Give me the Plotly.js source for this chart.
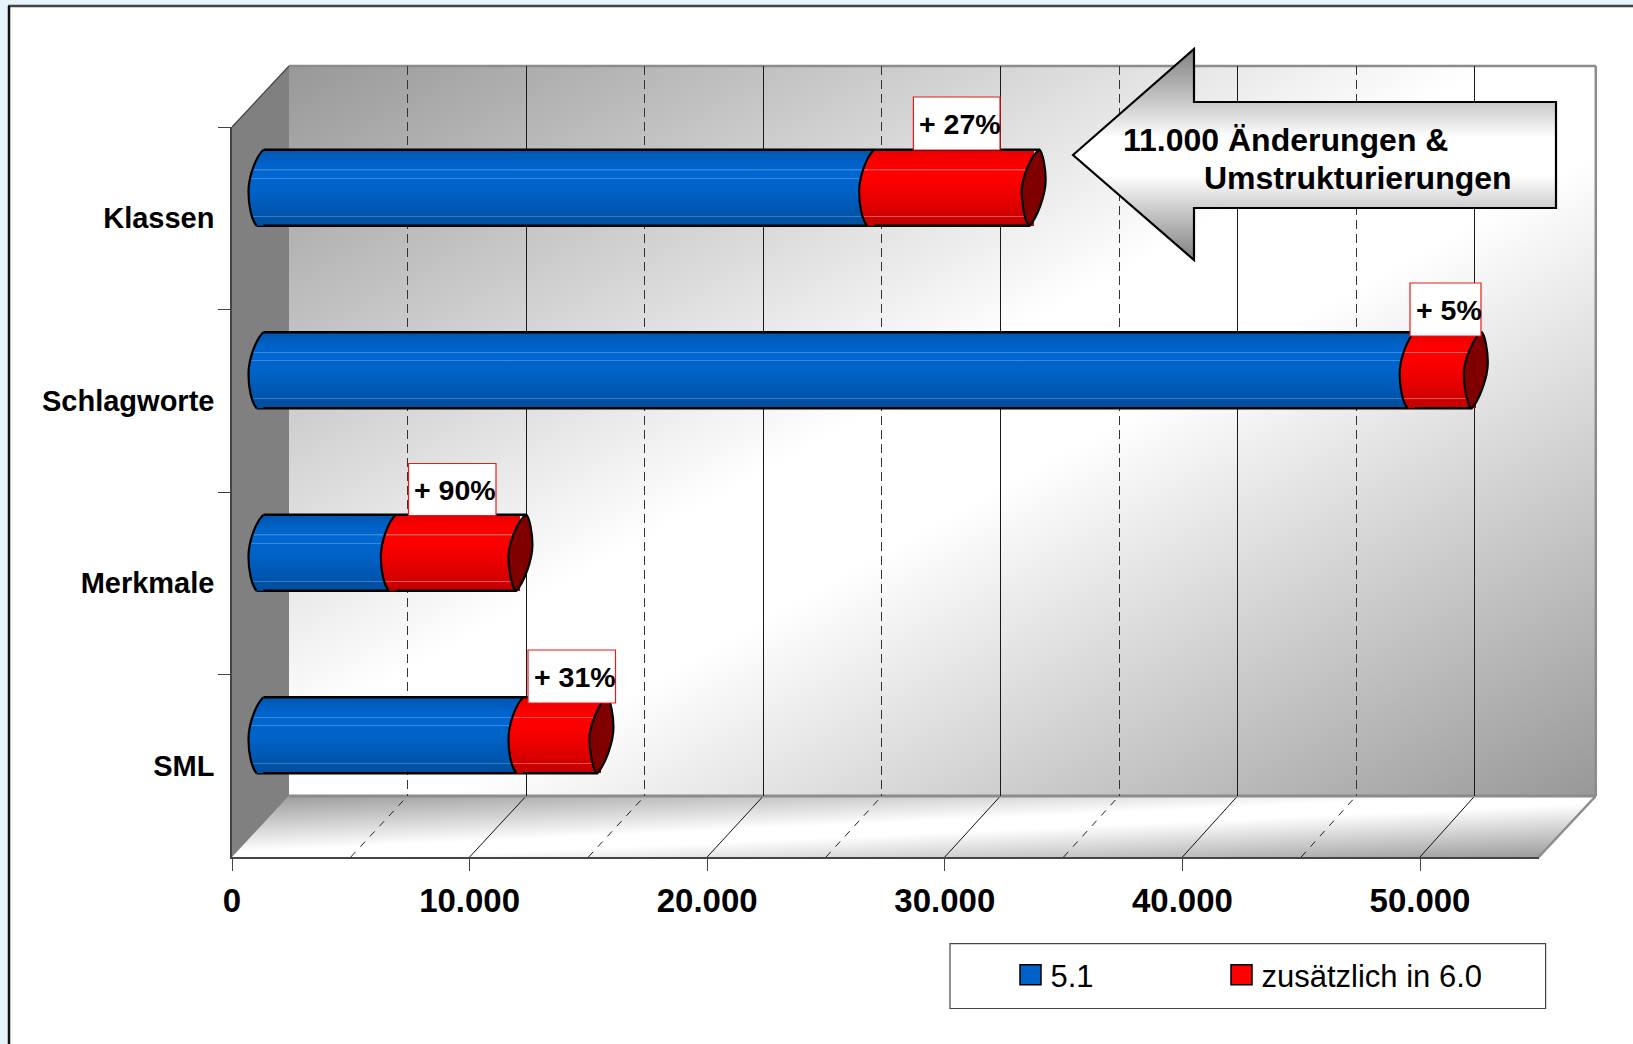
<!DOCTYPE html>
<html>
<head>
<meta charset="utf-8">
<script src="https://cdn.plot.ly/plotly-3.0.1.min.js"></script>
<style>html,body{margin:0;padding:0;background:#fff}#chart{width:1633px;height:1044px}</style>
</head>
<body>
<div id="chart"></div>
<script>
// ---- data ----
var categories = ['Klassen', 'Schlagworte', 'Merkmale', 'SML'];
var base51 = [25700, 48450, 5570, 10940];
var added60 = [6840, 2700, 5370, 3410];
var percentLabels = ['+ 27%', '+ 5%', '+ 90%', '+ 31%'];
var majorTicks = [0, 10000, 20000, 30000, 40000, 50000];
var majorTickLabels = ['0', '10.000', '20.000', '30.000', '40.000', '50.000'];
var minorTicks = [5000, 15000, 25000, 35000, 45000];
var seriesNames = ['5.1', 'zusätzlich in 6.0'];
var calloutLines = ['11.000 Änderungen &', 'Umstrukturierungen'];

// ---- layout geometry (pixels) ----
var W = 1633, H = 1044;
var L = 232, R = 1538.8, T = 127, B = 857;
var DX = 57, DY = 61;
var BACK_SHRINK = 2.5;
var BAR_HALF = 38;
var CAP_ROOM = 24;
var FONT = '"Liberation Sans", Arial, sans-serif';
var px = function (x) { return x / W; };
var py = function (y) { return 1 - y / H; };
var domX = function (d) { return [px(L + d), px(R + d)]; };
var domY = function (d) { return [py(B - d), py(T - d)]; };
var xMax = 55000;
var pxPerUnit = (R - L) / xMax;
var depthValue = DX / pxPerUnit;
var backValue = function (v) { return v * (1 - BACK_SHRINK / (R - L)) + depthValue; };

function svgUri(s) { return 'data:image/svg+xml;charset=utf-8,' + encodeURIComponent(s); }
function pxImage(uri, x0, y0, x1, y1, layer) {
  return { source: uri, xref: 'paper', yref: 'paper', x: px(x0), y: py(y0),
    sizex: (x1 - x0) / W, sizey: (y1 - y0) / H, xanchor: 'left', yanchor: 'top',
    sizing: 'stretch', layer: layer };
}
var diagStops = '<stop offset="0" stop-color="#989898"/><stop offset="0.46" stop-color="#fff"/>' +
  '<stop offset="0.56" stop-color="#fff"/><stop offset="1" stop-color="#989898"/>';
var wallW = R - L, wallH = B - T;
var wallSvg = '<svg xmlns="http://www.w3.org/2000/svg" width="' + wallW + '" height="' + wallH + '">' +
  '<defs><linearGradient id="g" x1="0" y1="0" x2="1" y2="1">' + diagStops + '</linearGradient></defs>' +
  '<rect width="100%" height="100%" fill="url(#g)"/></svg>';
var floorW = R - L + DX;
var floorSvg = '<svg xmlns="http://www.w3.org/2000/svg" width="' + floorW + '" height="' + DY + '">' +
  '<defs><linearGradient id="g" x1="0" y1="0" x2="1" y2="1">' + diagStops + '</linearGradient></defs>' +
  '<polygon points="0,' + DY + ' ' + (R - L) + ',' + DY + ' ' + floorW + ',0 ' + DX + ',0" fill="url(#g)"/></svg>';
var ARX = [1073, 1194, 1556], ARY = [49, 102, 155, 208, 260];
var arrowW = ARX[2] - ARX[0] + 4, arrowH = ARY[4] - ARY[0] + 4;
var ap = function (x, y) { return (x - ARX[0] + 2) + ',' + (y - ARY[0] + 2); };
var arrowSvg = '<svg xmlns="http://www.w3.org/2000/svg" width="' + arrowW + '" height="' + arrowH + '">' +
  '<defs><linearGradient id="a" x1="0" y1="0" x2="0" y2="1">' +
  '<stop offset="0" stop-color="#808080"/><stop offset="0.25" stop-color="#c8c8c8"/>' +
  '<stop offset="0.42" stop-color="#fff"/><stop offset="0.6" stop-color="#fff"/>' +
  '<stop offset="0.77" stop-color="#c8c8c8"/><stop offset="1" stop-color="#808080"/></linearGradient></defs>' +
  '<polygon points="' + [ap(ARX[0], ARY[2]), ap(ARX[1], ARY[0]), ap(ARX[1], ARY[1]), ap(ARX[2], ARY[1]),
    ap(ARX[2], ARY[3]), ap(ARX[1], ARY[3]), ap(ARX[1], ARY[4])].join(' ') +
  '" fill="url(#a)" stroke="#000" stroke-width="2.2"/></svg>';

var images = [
  pxImage(svgUri(wallSvg), L + DX, T - DY, R + DX, B - DY, 'below'),
  pxImage(svgUri(floorSvg), L, B - DY, R + DX, B, 'below'),
  pxImage(svgUri(arrowSvg), ARX[0] - 2, ARY[0] - 2, ARX[2] + 2, ARY[4] + 2, 'above')
];

// ---- shapes ----
function paperPath(pts, close) {
  return pts.map(function (p, i) { return (i ? 'L' : 'M') + px(p[0]) + ',' + py(p[1]); }).join('') + (close ? 'Z' : '');
}
function paperRect(x0, y0, x1, y1, fill, line, lw, layer) {
  return { type: 'rect', xref: 'paper', yref: 'paper', x0: px(x0), x1: px(x1), y0: py(y0), y1: py(y1),
    fillcolor: fill, line: { color: line, width: lw }, layer: layer };
}
function paperLine(x0, y0, x1, y1, color, lw, layer) {
  return { type: 'line', xref: 'paper', yref: 'paper', x0: px(x0), x1: px(x1), y0: py(y0), y1: py(y1),
    line: { color: color, width: lw }, layer: layer };
}
var shapes = [];
// page frame
shapes.push(paperRect(0, 0, W, 5, '#e6f4fb', 'rgba(0,0,0,0)', 0, 'below'));
shapes.push(paperRect(0, 0, 8, H, '#e6f4fb', 'rgba(0,0,0,0)', 0, 'below'));
shapes.push(paperLine(8, 6, W, 6, '#444444', 2.5, 'below'));
shapes.push(paperLine(9, 6, 9, H, '#111111', 2.5, 'below'));
// side wall
shapes.push({ type: 'path', xref: 'paper', yref: 'paper', layer: 'below',
  path: paperPath([[L, T], [L + DX, T - DY], [L + DX, B - DY], [L, B]], true),
  fillcolor: '#808080', line: { width: 0, color: 'rgba(0,0,0,0)' } });
shapes.push(paperLine(L, T, L + DX, T - DY, '#444444', 1.2, 'below'));
// floor grid lines
majorTicks.slice(1).forEach(function (v) {
  shapes.push({ type: 'line', xref: 'x', yref: 'paper', layer: 'below', x0: v, x1: backValue(v),
    y0: py(B), y1: py(B - DY), line: { color: '#111111', width: 1 } });
});
minorTicks.forEach(function (v) {
  shapes.push({ type: 'line', xref: 'x', yref: 'paper', layer: 'below', x0: v, x1: backValue(v),
    y0: py(B), y1: py(B - DY), line: { color: '#222222', width: 1, dash: '7px,7px' } });
});
// wall and floor edges
shapes.push(paperLine(L + DX, T - DY, R + DX, T - DY, '#8c8c8c', 2.5, 'below'));
shapes.push(paperLine(R + DX, T - DY, R + DX, B - DY, '#8c8c8c', 2.5, 'below'));
shapes.push(paperLine(L + DX, B - DY, R + DX, B - DY, '#8c8c8c', 3, 'below'));
shapes.push(paperLine(R, B, R + DX, B - DY, '#8c8c8c', 2.5, 'below'));
// legend frame
shapes.push(paperRect(950, 943.6, 1545.6, 1008.5, '#ffffff', '#444444', 1.2, 'below'));

// cylinders: ends and edges
var LEFT_CAP = 'M3,38C-4,32 -12,12 -12,-4C-12,-18 -9,-32 -4,-38';
var LEFT_CAP_FILL = LEFT_CAP + 'L3,-38Z';
var RIGHT_CAP = 'M6,38C9,35 12,20 12,8C12,-8 3,-30 -4,-38C-9,-36 -12,-14 -12,-4C-12,10 -2,34 6,38Z';
var blueCaps = [], redCaps = [];
function capShape(path, xv, cat, fill, lw) {
  return { type: 'path', xref: 'x3', yref: 'y3', xsizemode: 'pixel', ysizemode: 'pixel',
    xanchor: xv, yanchor: cat, path: path, fillcolor: fill, line: { color: '#000', width: lw }, layer: 'above' };
}
var EDGE_TOP = { half: BAR_HALF, startPx: 3, endPx: 6 };
var EDGE_BOTTOM = { half: -BAR_HALF, startPx: -4, endPx: -4 };
categories.forEach(function (c, i) {
  var total = base51[i] + added60[i];
  [EDGE_TOP, EDGE_BOTTOM].forEach(function (e) {
    shapes.push({ type: 'line', xref: 'x3', yref: 'y3', ysizemode: 'pixel', yanchor: c, layer: 'above',
      x0: e.startPx / pxPerUnit, x1: total + e.endPx / pxPerUnit, y0: e.half, y1: e.half, line: { color: '#000', width: 2.4 } });
  });
  blueCaps.push(shapes.length);
  shapes.push(capShape(LEFT_CAP_FILL, 0, c, '#0062c8', 0));
  shapes.push(capShape(LEFT_CAP, 0, c, 'rgba(0,0,0,0)', 2.2));
  redCaps.push(shapes.length);
  shapes.push(capShape(LEFT_CAP_FILL, base51[i], c, '#f00000', 0));
  shapes.push(capShape(LEFT_CAP, base51[i], c, 'rgba(0,0,0,0)', 2.2));
  shapes.push(capShape(RIGHT_CAP, total, c, '#800000', 2.2));
});

// percentage boxes and callout text
var labelBoxes = [[913.4, 97, 1000, 150], [1410, 283, 1481, 336], [408.5, 463.5, 496, 515.5], [528, 650, 615.5, 703]];
var annotations = [];
labelBoxes.forEach(function (b, i) {
  shapes.push(paperRect(b[0], b[1], b[2], b[3], '#ffffff', '#f01818', 1.2, 'above'));
  annotations.push({ xref: 'paper', yref: 'paper', x: px(b[0] + 4), y: py((b[1] + b[3]) / 2 + 0.5), xanchor: 'left', yanchor: 'middle',
    text: percentLabels[i], showarrow: false, font: { family: FONT, size: 28.5, color: '#000', weight: 700 } });
});
var calloutPos = [[1121, 140], [1202, 178]];
calloutLines.forEach(function (t, i) {
  annotations.push({ xref: 'paper', yref: 'paper', x: px(calloutPos[i][0]), y: py(calloutPos[i][1]), xanchor: 'left', yanchor: 'middle',
    text: t, showarrow: false, font: { family: FONT, size: 32, color: '#000', weight: 700 } });
});

// ---- traces ----
var zeros = categories.map(function () { return 0; });
var traces = [
  { type: 'bar', orientation: 'h', y: categories, x: zeros, showlegend: false, hoverinfo: 'skip', opacity: 0 },
  { type: 'bar', orientation: 'h', y: categories, x: zeros, xaxis: 'x2', yaxis: 'y2', showlegend: false, hoverinfo: 'skip', opacity: 0 },
  { type: 'bar', orientation: 'h', name: seriesNames[0], y: categories, x: base51, xaxis: 'x3', yaxis: 'y3', legend: 'legend',
    marker: { color: '#0062c8', line: { width: 0 } }, hoverinfo: 'x+y', showlegend: true },
  { type: 'bar', orientation: 'h', name: seriesNames[1], y: categories, x: added60, xaxis: 'x3', yaxis: 'y3', legend: 'legend2',
    marker: { color: '#ff0000', line: { width: 0 } }, hoverinfo: 'x+y', showlegend: true }
];
var hiddenY = { type: 'category', categoryorder: 'array', categoryarray: categories, range: [3.5, -0.5],
  showgrid: false, zeroline: false, showline: false, ticks: '', showticklabels: false };
function legendAt(x) {
  return { orientation: 'h', x: px(x), y: py(975), xanchor: 'left', yanchor: 'middle',
    bgcolor: 'rgba(0,0,0,0)', borderwidth: 0, font: { family: FONT, size: 31, color: '#000' } };
}

var layout = {
  width: W, height: H, autosize: false,
  margin: { l: 0, r: 0, t: 0, b: 0, pad: 0 },
  paper_bgcolor: '#ffffff', plot_bgcolor: 'rgba(0,0,0,0)',
  font: { family: FONT, color: '#000' },
  barmode: 'stack', bargap: 0.5836,
  images: images, shapes: shapes, annotations: annotations,
  showlegend: true,
  legend: legendAt(1010.5),
  legend2: legendAt(1221.5),
  xaxis: { domain: domX(0), anchor: 'y', range: [0, xMax], tickmode: 'array', tickvals: majorTicks, ticktext: majorTickLabels,
    ticks: 'outside', ticklen: 12, tickwidth: 1.2, tickcolor: '#444', showline: true, linecolor: '#444', linewidth: 2,
    showgrid: false, zeroline: false, ticklabelstandoff: 1, tickfont: { family: FONT, size: 33, color: '#000', weight: 700 } },
  yaxis: { domain: domY(0), anchor: 'x', type: 'category', categoryorder: 'array', categoryarray: categories, range: [3.5, -0.5],
    tickson: 'boundaries', ticks: 'outside', ticklen: 12, tickwidth: 1.2, tickcolor: '#444', showline: true, linecolor: '#444', linewidth: 1.5,
    showgrid: false, zeroline: false, ticklabelstandoff: 10, tickfont: { family: FONT, size: 29, color: '#000', weight: 700 } },
  xaxis2: { domain: [px(L + DX), px(R + DX - BACK_SHRINK)], anchor: 'y2', range: [0, xMax], tickmode: 'array', tickvals: majorTicks.slice(1), ticks: '',
    showticklabels: false, showgrid: true, gridcolor: '#1a1a1a', gridwidth: 1, zeroline: false, showline: false,
    minor: { tickmode: 'array', tickvals: minorTicks, showgrid: true, griddash: '9px,5px', gridcolor: '#333', gridwidth: 1, ticks: '' } },
  yaxis2: Object.assign({ domain: domY(DY), anchor: 'x2' }, hiddenY),
  // room on the left of zero so the rounded bar ends are not clipped
  xaxis3: { domain: [px(L + DX / 2 - CAP_ROOM), px(R + DX / 2)], anchor: 'y3', range: [-CAP_ROOM / pxPerUnit, xMax], visible: false, showgrid: false, zeroline: false },
  yaxis3: Object.assign({ domain: domY(DY / 2), anchor: 'x3' }, hiddenY)
};

function gradient(id, stops) {
  var ns = 'http://www.w3.org/2000/svg';
  var g = document.createElementNS(ns, 'linearGradient');
  g.setAttribute('id', id); g.setAttribute('x1', '0'); g.setAttribute('y1', '0'); g.setAttribute('x2', '0'); g.setAttribute('y2', '1');
  stops.forEach(function (s) {
    var st = document.createElementNS(ns, 'stop');
    st.setAttribute('offset', s[0]); st.setAttribute('stop-color', s[1]); g.appendChild(st);
  });
  return g;
}
var blueStops = [[0, '#0056b0'], [0.1, '#005cbc'], [0.2, '#0064cc'], [0.255, '#0064cc'], [0.26, '#3a88dc'], [0.27, '#3a88dc'], [0.275, '#0066d0'],
  [0.365, '#0066d0'], [0.37, '#3a88dc'], [0.38, '#3a88dc'], [0.385, '#0064cc'], [0.55, '#0062c6'], [0.75, '#0058b4'], [0.865, '#0054aa'],
  [0.87, '#3a78c0'], [0.88, '#3a78c0'], [0.885, '#0052a6'], [1, '#004e9e']];
var redStops = [[0, '#e40000'], [0.1, '#f40000'], [0.2, '#ff0000'], [0.255, '#ff0000'], [0.26, '#ff5a5a'], [0.27, '#ff5a5a'], [0.275, '#ff0000'],
  [0.42, '#fa0000'], [0.6, '#ec0000'], [0.8, '#d80000'], [0.865, '#d00000'], [0.87, '#ec5050'], [0.88, '#ec5050'], [0.885, '#cc0000'], [1, '#c00000']];

Plotly.newPlot('chart', traces, layout, { displayModeBar: false, responsive: false }).then(function (gd) {
  var svg = gd.querySelector('.main-svg');
  var defs = svg.querySelector('defs');
  defs.appendChild(gradient('barBlue', blueStops));
  defs.appendChild(gradient('barRed', redStops));
  gd.querySelectorAll('.barlayer path').forEach(function (p) {
    var f = p.style.fill;
    if (f.indexOf('0, 98, 200') >= 0) p.style.fill = 'url(#barBlue)';
    else if (f.indexOf('255, 0, 0') >= 0) p.style.fill = 'url(#barRed)';
  });
  blueCaps.forEach(function (idx) {
    var p = gd.querySelector('path[data-index="' + idx + '"]');
    if (p) { p.style.fill = 'url(#barBlue)'; p.style.fillOpacity = 1; }
  });
  redCaps.forEach(function (idx) {
    var p = gd.querySelector('path[data-index="' + idx + '"]');
    if (p) { p.style.fill = 'url(#barRed)'; p.style.fillOpacity = 1; }
  });
  gd.querySelectorAll('.legend .legendpoints path, .legend2 .legendpoints path').forEach(function (p) {
    p.setAttribute('d', 'M10.5,10H-10.5V-10H10.5Z');
    p.style.stroke = '#000'; p.style.strokeWidth = '1.5px';
  });
});
</script>
</body>
</html>
